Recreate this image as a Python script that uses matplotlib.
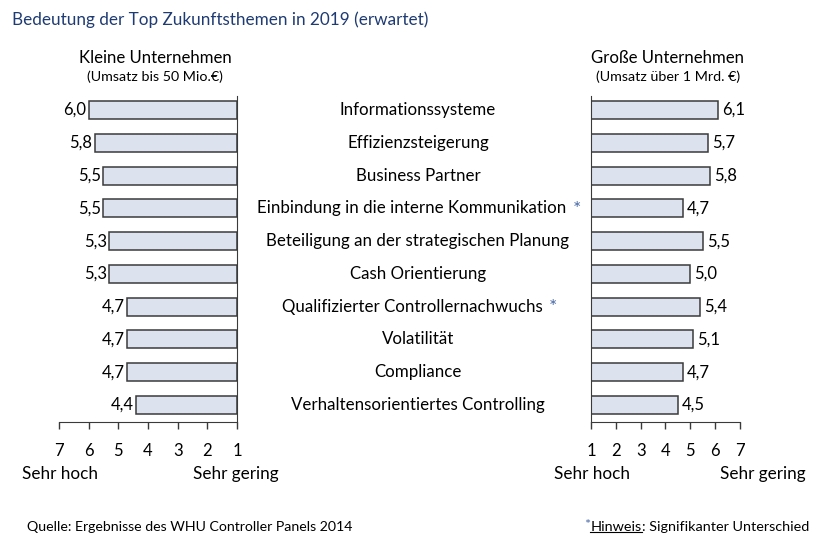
import matplotlib.pyplot as plt
from matplotlib.lines import Line2D

plt.rcParams['font.family'] = ['Lato', 'DejaVu Sans']

# data
themen = ['Informationssysteme', 'Effizienzsteigerung', 'Business Partner',
          'Einbindung in die interne Kommunikation', 'Beteiligung an der strategischen Planung',
          'Cash Orientierung', 'Qualifizierter Controllernachwuchs', 'Volatilität',
          'Compliance', 'Verhaltensorientiertes Controlling']
klein = [6.0, 5.8, 5.5, 5.5, 5.3, 5.3, 4.7, 4.7, 4.7, 4.4]
gross = [6.1, 5.7, 5.8, 4.7, 5.5, 5.0, 5.4, 5.1, 4.7, 4.5]
signifikant = [False, False, False, True, False, False, True, False, False, False]
ticks = [1, 2, 3, 4, 5, 6, 7]

W, H = 820, 546
fill = '#dce3ee'
edge = '#3a3a3a'
blau = '#1f3b73'
stern = '#4a6aa5'

fig = plt.figure(figsize=(W / 100, H / 100), dpi=100)

def px_axes(x0, x1, ytop, ybot):
    return fig.add_axes([x0 / W, 1 - ybot / H, (x1 - x0) / W, (ybot - ytop) / H])

ax_l = px_axes(59, 237, 96, 422)
ax_r = px_axes(591, 740, 96, 422)

y = list(range(len(themen)))
for ax, vals, side in [(ax_l, klein, 'l'), (ax_r, gross, 'r')]:
    ax.barh(y, [v - 1 for v in vals], left=1, height=0.55, color=fill,
            edgecolor=edge, linewidth=1.1)
    ax.set_ylim(9.52, -0.43)
    ax.set_yticks([])
    ax.set_xticks(ticks)
    ax.set_xticklabels([str(t) for t in ticks], fontsize=12)
    ax.tick_params(axis='x', direction='out', length=5, width=1, pad=10, color=edge)
    ax.spines['top'].set_visible(False)
    for s in ['bottom', 'left', 'right']:
        ax.spines[s].set_color(edge)
    if side == 'l':
        ax.set_xlim(7, 1)
        ax.spines['left'].set_visible(False)
        for yi, v in zip(y, vals):
            ax.annotate(f'{v:.1f}'.replace('.', ','), (v, yi), xytext=(-2, 0),
                        textcoords='offset points', ha='right', va='center', fontsize=12)
    else:
        ax.set_xlim(1, 7)
        ax.spines['right'].set_visible(False)
        for yi, v in zip(y, vals):
            ax.annotate(f'{v:.1f}'.replace('.', ','), (v, yi), xytext=(3, 0),
                        textcoords='offset points', ha='left', va='center', fontsize=12)

# category labels in the middle
renderer = fig.canvas.get_renderer()
for yi, name, star in zip(y, themen, signifikant):
    ypix = 110 + yi * 32.78
    yf = 1 - ypix / H
    if star:
        t = fig.text(412 / W, yf, name, ha='center', va='center', fontsize=12.2)
        bb = t.get_window_extent(renderer)
        fig.text((bb.x1 + 6) / W, yf - 1 / H, '*', ha='left', va='center',
                 fontsize=14, color=stern)
    else:
        fig.text(418 / W, yf, name, ha='center', va='center', fontsize=12.2)

# headers
fig.text(12 / W, 1 - 20 / H, 'Bedeutung der Top Zukunftsthemen in 2019 (erwartet)',
         ha='left', va='center', fontsize=12.3, color=blau)
fig.text(155 / W, 1 - 58 / H, 'Kleine Unternehmen', ha='center', va='center', fontsize=12.1)
fig.text(155 / W, 1 - 77 / H, '(Umsatz bis 50 Mio.€)', ha='center', va='center', fontsize=10.3)
fig.text(668 / W, 1 - 58 / H, 'Große Unternehmen', ha='center', va='center', fontsize=12.1)
fig.text(668 / W, 1 - 77 / H, '(Umsatz über 1 Mrd. €)', ha='center', va='center', fontsize=10.3)

# scale annotations
fig.text(22 / W, 1 - 474 / H, 'Sehr hoch', ha='left', va='center', fontsize=12.3)
fig.text(236 / W, 1 - 474 / H, 'Sehr gering', ha='center', va='center', fontsize=12.3)
fig.text(592 / W, 1 - 474 / H, 'Sehr hoch', ha='center', va='center', fontsize=12.3)
fig.text(806 / W, 1 - 474 / H, 'Sehr gering', ha='right', va='center', fontsize=12.3)

# footer
fig.text(27 / W, 1 - 527 / H, 'Quelle: Ergebnisse des WHU Controller Panels 2014',
         ha='left', va='center', fontsize=10.2)
t_rest = fig.text(809 / W, 1 - 527 / H, ': Signifikanter Unterschied', ha='right',
                  va='center', fontsize=10.4)
bb = t_rest.get_window_extent(renderer)
t_hin = fig.text(bb.x0 / W, 1 - 527 / H, 'Hinweis', ha='right', va='center', fontsize=10.4)
bb2 = t_hin.get_window_extent(renderer)
fig.add_artist(Line2D([bb2.x0 / W, bb2.x1 / W], [(bb2.y0 + 1) / H, (bb2.y0 + 1) / H],
                      color='black', linewidth=0.8))
fig.text(bb2.x0 / W, 1 - 525 / H, '*', ha='right', va='center', fontsize=10.4, color=stern)

fig.savefig('out.png', dpi=100)
